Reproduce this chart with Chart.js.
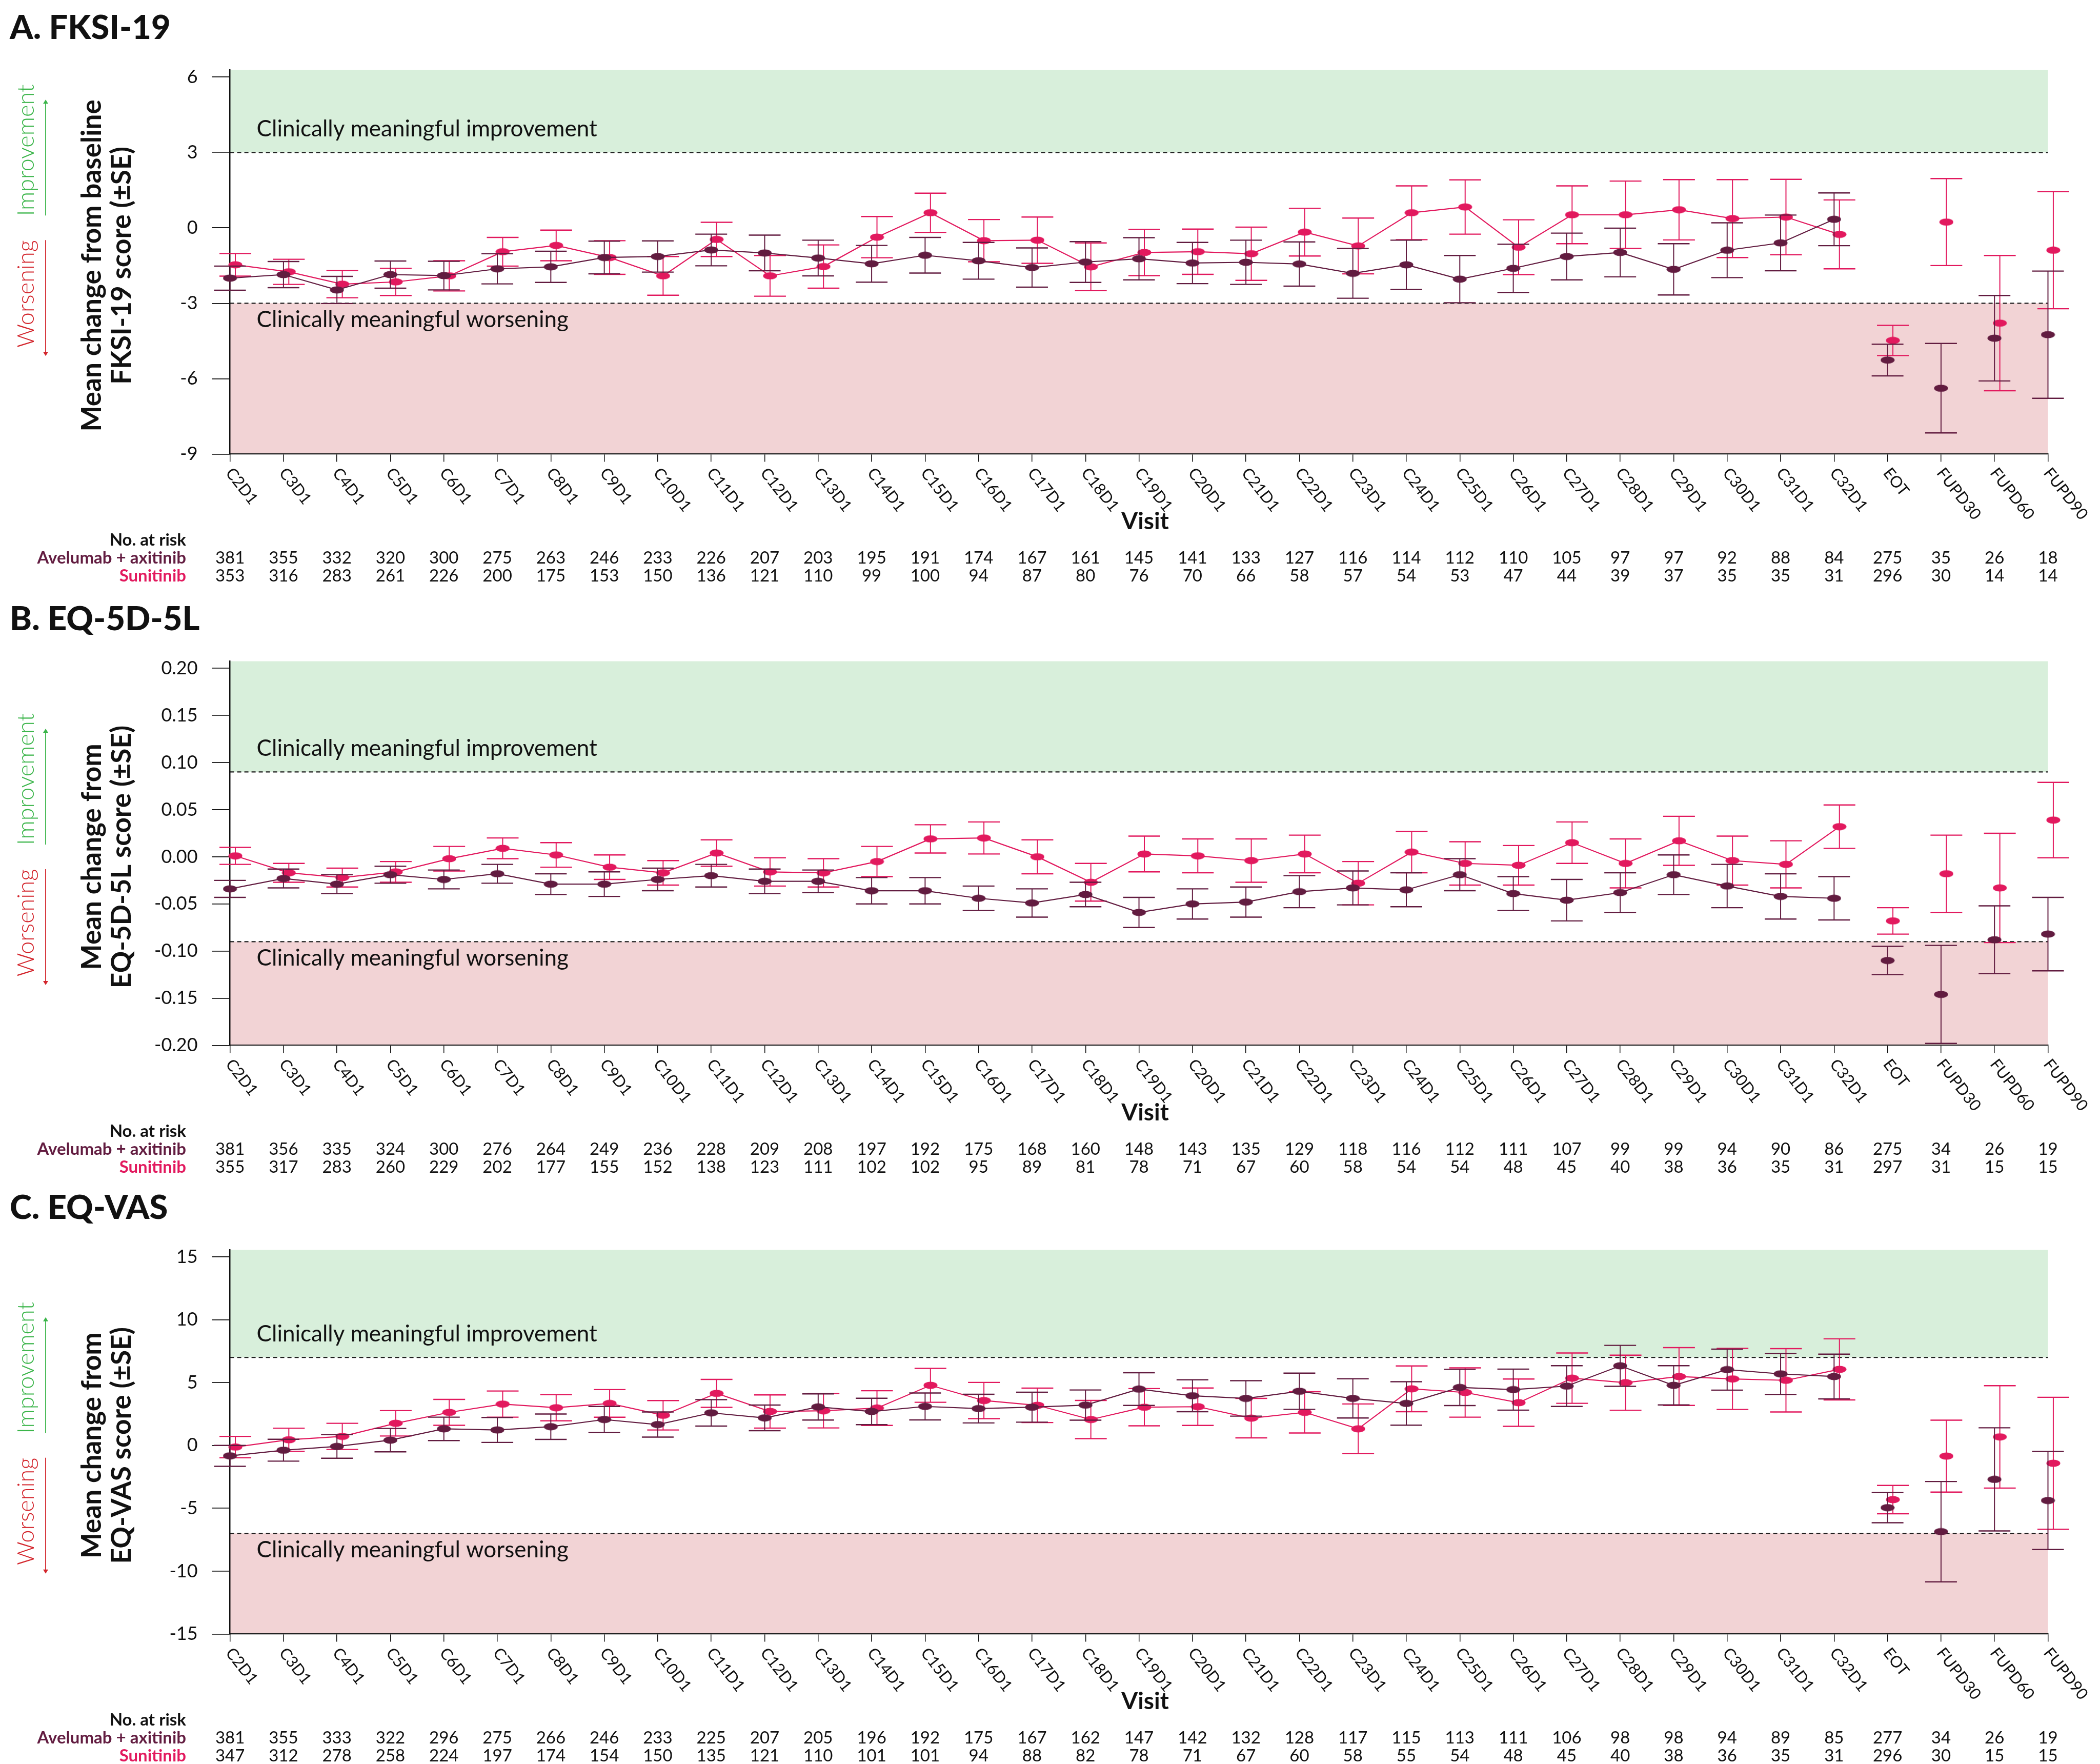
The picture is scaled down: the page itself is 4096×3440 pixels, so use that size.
<!DOCTYPE html>
<html>
<head>
<meta charset="utf-8">
<script src="https://cdn.jsdelivr.net/npm/chart.js@4.4.1/dist/chart.umd.min.js"></script>
<style>
  html, body { margin: 0; padding: 0; background: #fff; }
  body { width: 4096px; height: 3440px; position: relative; overflow: hidden; }
  canvas { position: absolute; left: 0; }
</style>
</head>
<body>
<canvas id="panelA" style="top:0px" width="4096" height="1153"></canvas>
<canvas id="panelB" style="top:1153px" width="4096" height="1148"></canvas>
<canvas id="panelC" style="top:2301px" width="4096" height="1139"></canvas>
<script>
// ---- categories ----
const VISITS = ["C2D1", "C3D1", "C4D1", "C5D1", "C6D1", "C7D1", "C8D1", "C9D1", "C10D1", "C11D1",
  "C12D1", "C13D1", "C14D1", "C15D1", "C16D1", "C17D1", "C18D1", "C19D1", "C20D1", "C21D1",
  "C22D1", "C23D1", "C24D1", "C25D1", "C26D1", "C27D1", "C28D1", "C29D1", "C30D1", "C31D1",
  "C32D1", "EOT", "FUPD30", "FUPD60", "FUPD90"];
const LAST_CYCLE = VISITS.indexOf("C32D1");

// ---- A. FKSI-19 ----
const FKSI_Y_TICKS = [-9, -6, -3, 0, 3, 6];
const FKSI_AVE_MEAN = [-2.00, -1.86, -2.47, -1.86, -1.90, -1.63, -1.55, -1.18, -1.14, -0.88, -1.00, -1.20, -1.43, -1.09, -1.31, -1.58, -1.36, -1.23, -1.40, -1.37, -1.44, -1.81, -1.47, -2.04, -1.61, -1.14, -0.98, -1.65, -0.89, -0.60, 0.34, -5.26, -6.38, -4.39, -4.25];
const FKSI_AVE_SE = [0.48, 0.52, 0.54, 0.54, 0.57, 0.60, 0.62, 0.65, 0.62, 0.63, 0.71, 0.71, 0.73, 0.71, 0.73, 0.78, 0.81, 0.84, 0.82, 0.88, 0.88, 0.99, 0.98, 0.94, 0.96, 0.93, 0.97, 1.02, 1.09, 1.11, 1.05, 0.63, 1.78, 1.70, 2.53];
const FKSI_SUN_MEAN = [-1.47, -1.75, -2.24, -2.15, -1.91, -0.95, -0.70, -1.18, -1.91, -0.46, -1.91, -1.54, -0.37, 0.60, -0.51, -0.49, -1.55, -0.98, -0.95, -1.03, -0.17, -0.72, 0.60, 0.83, -0.77, 0.52, 0.52, 0.72, 0.37, 0.43, -0.26, -4.48, 0.23, -3.79, -0.89];
const FKSI_SUN_SE = [0.45, 0.50, 0.54, 0.54, 0.60, 0.57, 0.61, 0.67, 0.77, 0.68, 0.81, 0.86, 0.82, 0.78, 0.84, 0.92, 0.95, 0.92, 0.90, 1.06, 0.95, 1.11, 1.07, 1.08, 1.09, 1.15, 1.34, 1.20, 1.55, 1.50, 1.37, 0.60, 1.73, 2.69, 2.33];
const FKSI_AVE_RISK = [381, 355, 332, 320, 300, 275, 263, 246, 233, 226, 207, 203, 195, 191, 174, 167, 161, 145, 141, 133, 127, 116, 114, 112, 110, 105, 97, 97, 92, 88, 84, 275, 35, 26, 18];
const FKSI_SUN_RISK = [353, 316, 283, 261, 226, 200, 175, 153, 150, 136, 121, 110, 99, 100, 94, 87, 80, 76, 70, 66, 58, 57, 54, 53, 47, 44, 39, 37, 35, 35, 31, 296, 30, 14, 14];

// ---- B. EQ-5D-5L ----
const EQ5D_Y_TICKS = [-0.20, -0.15, -0.10, -0.05, 0.00, 0.05, 0.10, 0.15, 0.20];
const EQ5D_AVE_MEAN = [-0.034, -0.023, -0.029, -0.019, -0.024, -0.018, -0.029, -0.029, -0.024, -0.020, -0.026, -0.026, -0.036, -0.036, -0.044, -0.049, -0.040, -0.059, -0.050, -0.048, -0.037, -0.033, -0.035, -0.019, -0.039, -0.046, -0.038, -0.019, -0.031, -0.042, -0.044, -0.110, -0.146, -0.088, -0.082];
const EQ5D_AVE_SE = [0.009, 0.010, 0.010, 0.009, 0.010, 0.010, 0.011, 0.013, 0.012, 0.012, 0.013, 0.012, 0.014, 0.014, 0.013, 0.015, 0.013, 0.016, 0.016, 0.016, 0.017, 0.018, 0.018, 0.017, 0.018, 0.022, 0.021, 0.021, 0.023, 0.024, 0.023, 0.015, 0.052, 0.036, 0.039];
const EQ5D_SUN_MEAN = [0.001, -0.017, -0.022, -0.016, -0.002, 0.009, 0.002, -0.011, -0.017, 0.004, -0.016, -0.017, -0.005, 0.019, 0.020, 0.000, -0.027, 0.003, 0.001, -0.004, 0.003, -0.028, 0.005, -0.007, -0.009, 0.015, -0.007, 0.017, -0.004, -0.008, 0.032, -0.068, -0.018, -0.033, 0.039];
const EQ5D_SUN_SE = [0.009, 0.010, 0.010, 0.011, 0.013, 0.011, 0.013, 0.013, 0.013, 0.014, 0.015, 0.015, 0.016, 0.015, 0.017, 0.018, 0.020, 0.019, 0.018, 0.023, 0.020, 0.023, 0.022, 0.023, 0.021, 0.022, 0.026, 0.026, 0.026, 0.025, 0.023, 0.014, 0.041, 0.058, 0.040];
const EQ5D_AVE_RISK = [381, 356, 335, 324, 300, 276, 264, 249, 236, 228, 209, 208, 197, 192, 175, 168, 160, 148, 143, 135, 129, 118, 116, 112, 111, 107, 99, 99, 94, 90, 86, 275, 34, 26, 19];
const EQ5D_SUN_RISK = [355, 317, 283, 260, 229, 202, 177, 155, 152, 138, 123, 111, 102, 102, 95, 89, 81, 78, 71, 67, 60, 58, 54, 54, 48, 45, 40, 38, 36, 35, 31, 297, 31, 15, 15];

// ---- C. EQ-VAS ----
const VAS_Y_TICKS = [-15, -10, -5, 0, 5, 10, 15];
const VAS_AVE_MEAN = [-0.83, -0.38, -0.08, 0.42, 1.32, 1.23, 1.49, 2.06, 1.66, 2.59, 2.19, 3.06, 2.70, 3.10, 2.93, 3.04, 3.21, 4.48, 3.95, 3.74, 4.31, 3.74, 3.34, 4.61, 4.44, 4.72, 6.33, 4.78, 6.03, 5.69, 5.48, -4.95, -6.86, -2.70, -4.38];
const VAS_AVE_SE = [0.83, 0.87, 0.94, 0.93, 0.93, 0.99, 1.01, 1.04, 1.00, 1.05, 1.02, 1.04, 1.05, 1.07, 1.14, 1.19, 1.20, 1.30, 1.27, 1.41, 1.44, 1.56, 1.73, 1.44, 1.63, 1.62, 1.63, 1.56, 1.63, 1.63, 1.78, 1.20, 3.99, 4.10, 3.90];
const VAS_SUN_MEAN = [-0.13, 0.45, 0.72, 1.76, 2.63, 3.29, 3.00, 3.34, 2.40, 4.14, 2.70, 2.76, 2.97, 4.78, 3.57, 3.19, 2.06, 3.04, 3.08, 2.17, 2.63, 1.32, 4.50, 4.21, 3.40, 5.35, 4.99, 5.48, 5.29, 5.18, 6.05, -4.31, -0.85, 0.68, -1.42];
const VAS_SUN_SE = [0.85, 0.92, 1.04, 1.01, 1.03, 1.04, 1.04, 1.10, 1.17, 1.11, 1.32, 1.37, 1.38, 1.35, 1.44, 1.37, 1.52, 1.48, 1.49, 1.57, 1.64, 1.98, 1.82, 1.96, 1.88, 2.00, 2.19, 2.30, 2.43, 2.52, 2.43, 1.13, 2.86, 4.07, 5.25];
const VAS_AVE_RISK = [381, 355, 333, 322, 296, 275, 266, 246, 233, 225, 207, 205, 196, 192, 175, 167, 162, 147, 142, 132, 128, 117, 115, 113, 111, 106, 98, 98, 94, 89, 85, 277, 34, 26, 19];
const VAS_SUN_RISK = [347, 312, 278, 258, 224, 197, 174, 154, 150, 135, 121, 110, 101, 101, 94, 88, 82, 78, 71, 67, 60, 58, 55, 54, 48, 45, 40, 38, 36, 35, 31, 296, 30, 15, 15];

// ---- look ----
const FONT = "Lato, 'Open Sans', 'DejaVu Sans', sans-serif";
const AVE_COLOR = "#621c40";
const SUN_COLOR = "#e2195e";
const GREEN_BAND = "#d8efdb";
const RED_BAND = "#f2d3d5";
const GREEN_TEXT = "#3bb54a";
const RED_TEXT = "#d3252c";
const PLOT_LEFT = 448.6, PLOT_RIGHT = 3994.5, PLOT_TOP = 136.5, PLOT_BOTTOM = 885.5;
const DODGE = 0.1;      // sunitinib points sit a little right of the tick
const CAP = 31;         // half width of error bar caps
const LABEL_ANGLE = 52 * Math.PI / 180;

Chart.defaults.font.family = FONT;
Chart.defaults.color = "#111";

const PANELS = [
  {
    canvas: "panelA", title: "A. FKSI-19",
    yTitle: ["Mean change from baseline", "FKSI-19 score (\u00b1SE)"],
    yTicks: FKSI_Y_TICKS, yMin: -9, yMax: 6.28, decimals: 0, threshold: 3,
    aveMean: FKSI_AVE_MEAN, aveSe: FKSI_AVE_SE, sunMean: FKSI_SUN_MEAN, sunSe: FKSI_SUN_SE,
    aveRisk: FKSI_AVE_RISK, sunRisk: FKSI_SUN_RISK
  },
  {
    canvas: "panelB", title: "B. EQ-5D-5L",
    yTitle: ["Mean change from", "EQ-5D-5L score (\u00b1SE)"],
    yTicks: EQ5D_Y_TICKS, yMin: -0.20, yMax: 0.2075, decimals: 2, threshold: 0.09,
    aveMean: EQ5D_AVE_MEAN, aveSe: EQ5D_AVE_SE, sunMean: EQ5D_SUN_MEAN, sunSe: EQ5D_SUN_SE,
    aveRisk: EQ5D_AVE_RISK, sunRisk: EQ5D_SUN_RISK
  },
  {
    canvas: "panelC", title: "C. EQ-VAS",
    yTitle: ["Mean change from", "EQ-VAS score (\u00b1SE)"],
    yTicks: VAS_Y_TICKS, yMin: -15, yMax: 15.55, decimals: 0, threshold: 7,
    aveMean: VAS_AVE_MEAN, aveSe: VAS_AVE_SE, sunMean: VAS_SUN_MEAN, sunSe: VAS_SUN_SE,
    aveRisk: VAS_AVE_RISK, sunRisk: VAS_SUN_RISK
  }
];

// flattened dot used as point marker
function ellipseMarker(color) {
  const c = document.createElement("canvas");
  c.width = 28; c.height = 15;
  const g = c.getContext("2d");
  g.fillStyle = color;
  g.beginPath();
  g.ellipse(14, 7.5, 13.5, 7, 0, 0, Math.PI * 2);
  g.fill();
  return c;
}

function makeSeries(label, means, errors, color, dodge) {
  return {
    label,
    data: means.map((m, i) => ({ x: i + dodge, y: m })),
    errors,
    borderColor: color,
    backgroundColor: color,
    borderWidth: 2.2,
    pointStyle: ellipseMarker(color),
    pointRadius: 16,
    pointHoverRadius: 16,
    tension: 0,
    clip: false,
    // visits after C32D1 are not joined
    segment: { borderColor: c => (c.p1DataIndex > LAST_CYCLE ? "rgba(0,0,0,0)" : undefined) }
  };
}

// vertical +/- SE bars, drawn just before each dataset
const errorBars = {
  id: "errorBars",
  beforeDatasetDraw(chart, args) {
    const ds = chart.data.datasets[args.index];
    const y = chart.scales.y;
    const ctx = chart.ctx;
    ctx.save();
    ctx.strokeStyle = ds.borderColor;
    args.meta.data.forEach((pt, i) => {
      const v = ds.data[i].y, se = ds.errors[i];
      const top = y.getPixelForValue(v + se), bot = y.getPixelForValue(v - se);
      ctx.lineWidth = 2;
      ctx.beginPath(); ctx.moveTo(pt.x, top); ctx.lineTo(pt.x, bot); ctx.stroke();
      ctx.lineWidth = 2.4;
      ctx.beginPath();
      ctx.moveTo(pt.x - CAP, top); ctx.lineTo(pt.x + CAP, top);
      ctx.moveTo(pt.x - CAP, bot); ctx.lineTo(pt.x + CAP, bot);
      ctx.stroke();
    });
    ctx.restore();
  }
};

function drawArrow(ctx, x, y0, y1, color) {
  const dir = Math.sign(y1 - y0);
  ctx.save();
  ctx.strokeStyle = color; ctx.fillStyle = color; ctx.lineWidth = 1.8;
  ctx.beginPath(); ctx.moveTo(x, y0); ctx.lineTo(x, y1 - dir * 4); ctx.stroke();
  ctx.beginPath(); ctx.moveTo(x - 5, y1 - dir * 8); ctx.lineTo(x, y1); ctx.lineTo(x + 5, y1 - dir * 8); ctx.closePath(); ctx.fill();
  ctx.restore();
}

function rotatedText(ctx, text, x, y, angle, align) {
  ctx.save();
  ctx.translate(x, y);
  ctx.rotate(angle);
  ctx.textAlign = align;
  ctx.fillText(text, 0, 0);
  ctx.restore();
}

// bands, thresholds, titles, visit labels and the at-risk table
function makeDecor(p) {
  return {
    id: "decor",
    beforeDraw(chart) {
      const { ctx, chartArea: a, scales: { y } } = chart;
      const yTop = y.getPixelForValue(p.yMax);
      const yHi = y.getPixelForValue(p.threshold);
      const yLo = y.getPixelForValue(-p.threshold);
      const yBot = y.getPixelForValue(p.yMin);
      ctx.save();
      ctx.fillStyle = GREEN_BAND;
      ctx.fillRect(a.left, yTop, a.right - a.left, yHi - yTop);
      ctx.fillStyle = RED_BAND;
      ctx.fillRect(a.left, yLo, a.right - a.left, yBot - yLo);
      ctx.strokeStyle = "#1e1e1e"; ctx.lineWidth = 2.2; ctx.setLineDash([8, 6]);
      [yHi, yLo].forEach(py => {
        ctx.beginPath(); ctx.moveTo(a.left, py); ctx.lineTo(a.right, py); ctx.stroke();
      });
      ctx.setLineDash([]);
      ctx.fillStyle = "#111";
      ctx.font = `400 44px ${FONT}`;
      ctx.textAlign = "left"; ctx.textBaseline = "alphabetic";
      ctx.fillText("Clinically meaningful improvement", a.left + 52, yHi - 31);
      ctx.fillText("Clinically meaningful worsening", a.left + 52, yLo + 47);
      ctx.restore();
    },
    afterDraw(chart) {
      const { ctx, chartArea: a, scales: { x, y } } = chart;
      ctx.save();
      ctx.textBaseline = "alphabetic";

      // panel title
      ctx.fillStyle = "#111";
      ctx.font = `900 65px ${FONT}`;
      ctx.textAlign = "left";
      ctx.fillText(p.title, 19, 76);

      // y axis title, two lines
      const midY = (y.getPixelForValue(p.yTicks[0]) + y.getPixelForValue(p.yTicks[p.yTicks.length - 1])) / 2;
      ctx.font = `700 53px ${FONT}`;
      p.yTitle.forEach((line, k) => rotatedText(ctx, line, 197 + k * 58, midY, -Math.PI / 2, "center"));

      // improvement / worsening cue
      const zero = y.getPixelForValue(0);
      ctx.font = `300 45px ${FONT}`;
      ctx.fillStyle = GREEN_TEXT;
      rotatedText(ctx, "Improvement", 66, zero - 23, -Math.PI / 2, "left");
      ctx.fillStyle = RED_TEXT;
      rotatedText(ctx, "Worsening", 66, zero + 24, -Math.PI / 2, "right");
      drawArrow(ctx, 89, zero - 24, zero - 250, GREEN_TEXT);
      drawArrow(ctx, 89, zero + 24, zero + 250, RED_TEXT);

      // visit labels, slanted down to the right
      ctx.fillStyle = "#111";
      ctx.font = `400 31px ${FONT}`;
      ctx.textBaseline = "middle";
      VISITS.forEach((lab, i) => rotatedText(ctx, lab, x.getPixelForValue(i) - 2, a.bottom + 31, LABEL_ANGLE, "left"));

      ctx.textBaseline = "alphabetic";
      ctx.font = `700 46px ${FONT}`;
      ctx.textAlign = "center";
      ctx.fillText("Visit", (a.left + a.right) / 2 + 12, a.bottom + 146);

      // number at risk
      ctx.font = `700 33px ${FONT}`;
      ctx.textAlign = "right";
      ctx.fillStyle = "#111";
      ctx.fillText("No. at risk", 363, a.bottom + 178);
      ctx.fillStyle = AVE_COLOR;
      ctx.fillText("Avelumab + axitinib", 363, a.bottom + 213);
      ctx.fillStyle = SUN_COLOR;
      ctx.fillText("Sunitinib", 363, a.bottom + 248);
      ctx.font = `400 33px ${FONT}`;
      ctx.textAlign = "center";
      ctx.fillStyle = "#111";
      p.aveRisk.forEach((n, i) => ctx.fillText(String(n), x.getPixelForValue(i), a.bottom + 213));
      p.sunRisk.forEach((n, i) => ctx.fillText(String(n), x.getPixelForValue(i), a.bottom + 248));
      ctx.restore();
    }
  };
}

PANELS.forEach(p => {
  const canvas = document.getElementById(p.canvas);
  const canvasHeight = canvas.height;
  new Chart(canvas, {
    type: "line",
    data: {
      datasets: [
        makeSeries("Avelumab + axitinib", p.aveMean, p.aveSe, AVE_COLOR, 0),
        makeSeries("Sunitinib", p.sunMean, p.sunSe, SUN_COLOR, DODGE)
      ]
    },
    options: {
      responsive: false,
      animation: false,
      devicePixelRatio: 1,
      layout: { padding: { left: 0, top: PLOT_TOP, right: canvas.width - PLOT_RIGHT, bottom: 0 } },
      plugins: { legend: { display: false }, tooltip: { enabled: false } },
      events: [],
      scales: {
        x: {
          type: "linear",
          bounds: "data",
          min: 0,
          max: VISITS.length - 1,
          afterBuildTicks: axis => { axis.ticks = VISITS.map((_, i) => ({ value: i })); },
          afterFit: axis => { axis.height = canvasHeight - PLOT_BOTTOM; },
          grid: { drawOnChartArea: false, drawTicks: true, tickLength: 15, color: "#111", lineWidth: 1.5 },
          border: { display: true, color: "#222", width: 2.2 },
          ticks: { display: false }
        },
        y: {
          type: "linear",
          bounds: "data",
          min: p.yMin,
          max: p.yMax,
          afterBuildTicks: axis => { axis.ticks = p.yTicks.map(v => ({ value: v })); },
          afterFit: axis => { axis.width = PLOT_LEFT; },
          grid: { drawOnChartArea: false, drawTicks: true, tickLength: 35, color: "#111", lineWidth: 1.7 },
          border: { display: true, color: "#111", width: 2.5 },
          ticks: {
            padding: 28,
            color: "#111",
            font: { family: FONT, size: 36 },
            callback: v => Number(v).toFixed(p.decimals)
          }
        }
      }
    },
    plugins: [errorBars, makeDecor(p)]
  });
});
</script>
</body>
</html>
